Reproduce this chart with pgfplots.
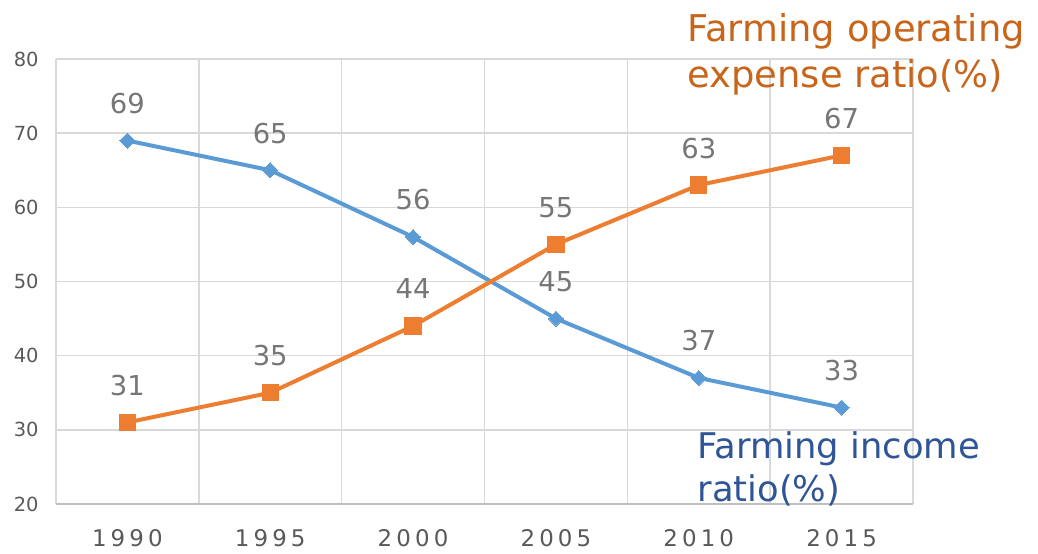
\documentclass[border=0pt]{standalone}
\usepackage{pgfplots}
\pgfplotsset{compat=1.18}
\usepackage{fontspec}
\setmainfont{DejaVu Sans}

\definecolor{incblue}{HTML}{5B9BD5}
\definecolor{expor}{HTML}{ED7D31}
\definecolor{incText}{HTML}{2F5597}
\definecolor{expText}{HTML}{C8651B}
\definecolor{tickgray}{HTML}{595959}
\definecolor{lblgray}{HTML}{767676}
\definecolor{gridgray}{HTML}{D9D9D9}
\definecolor{basegray}{HTML}{BFBFBF}

% filled diamond as wide as it is tall
\pgfdeclareplotmark{fdiamond}{%
  \pgfpathmoveto{\pgfqpoint{0pt}{\pgfplotmarksize}}%
  \pgfpathlineto{\pgfqpoint{\pgfplotmarksize}{0pt}}%
  \pgfpathlineto{\pgfqpoint{0pt}{-\pgfplotmarksize}}%
  \pgfpathlineto{\pgfqpoint{-\pgfplotmarksize}{0pt}}%
  \pgfpathclose
  \pgfusepathqfillstroke}

\begin{document}
\begin{tikzpicture}[x=1bp,y=1bp]
\useasboundingbox (-56,-50) rectangle (982,504);
\begin{axis}[
  at={(0,0)}, anchor=south west,
  scale only axis, width=857bp, height=445bp,
  xmin=-0.5, xmax=5.5, ymin=20, ymax=80,
  xtick={0,1,2,3,4,5},
  xticklabels={1990,1995,2000,2005,2010,2015},
  minor xtick={-0.5,0.5,1.5,2.5,3.5,4.5,5.5},
  ytick={20,30,40,50,60,70,80},
  xmajorgrids=false, xminorgrids=true, ymajorgrids=true,
  grid style={draw=gridgray, line width=1.5bp},
  minor grid style={draw=gridgray, line width=1.5bp},
  major tick length=0pt, minor tick length=0pt,
  separate axis lines,
  axis x line*=bottom, axis y line*=left,
  x axis line style={draw=basegray, line width=2bp, -},
  y axis line style={draw=none},
  /pgf/number format/assume math mode=true,
  yticklabel style={font=\fontsize{19.5}{19.5}\selectfont, text=tickgray, anchor=east, xshift=-14bp},
  xticklabel style={font=\fontsize{23}{23}\selectfont\addfontfeature{LetterSpace=18}, text=tickgray, anchor=base, yshift=-43bp},
  clip=false,
  point meta=y,
  nodes near coords={\pgfmathprintnumber{\pgfplotspointmeta}},
  every node near coord/.append style={font=\fontsize{27.5}{27.5}\selectfont, text=lblgray, anchor=base, yshift=27bp},
]
% share of farm income in farm receipts
\addplot[incblue, line width=4bp, mark=fdiamond, mark size=7.5bp,
  mark options={fill=incblue, draw=incblue, line width=0pt}]
  coordinates {(0,69) (1,65) (2,56) (3,45) (4,37) (5,33)};
% share of operating expenses
\addplot[expor, line width=4bp, mark=square*, mark size=8.2bp,
  mark options={fill=expor, draw=expor, line width=0pt}]
  coordinates {(0,31) (1,35) (2,44) (3,55) (4,63) (5,67)};

\node[anchor=base west, text=expText, font=\fontsize{37}{37}\selectfont, inner sep=0pt]
  at (axis cs:3.92,82.3) {Farming operating};
\node[anchor=base west, text=expText, font=\fontsize{37}{37}\selectfont, inner sep=0pt]
  at (axis cs:3.92,76.1) {expense ratio(\%)};
\node[anchor=base west, text=incText, font=\fontsize{35.5}{35.5}\selectfont, inner sep=0pt]
  at (axis cs:3.99,26.1) {Farming income};
\node[anchor=base west, text=incText, font=\fontsize{35.5}{35.5}\selectfont, inner sep=0pt]
  at (axis cs:3.99,20.4) {ratio(\%)};
\end{axis}
\end{tikzpicture}
\end{document}
